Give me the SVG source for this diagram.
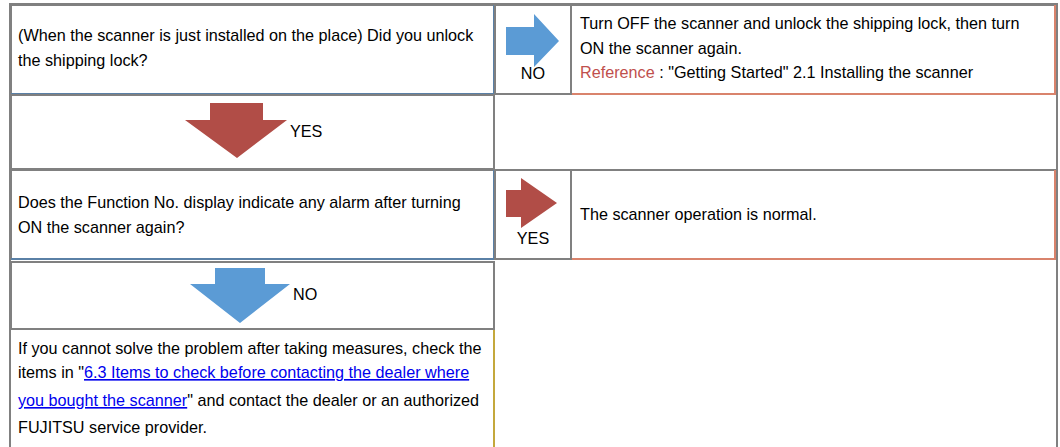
<svg xmlns="http://www.w3.org/2000/svg" width="1060" height="447" viewBox="0 0 1060 447">
<style>
text{font-family:"Liberation Sans",Arial,sans-serif;font-size:16.2px;fill:#000}
.g{fill:#fff;stroke:#808080;stroke-width:2}
.gl{stroke:#808080;stroke-width:2;fill:none}
.bl{stroke:#5a80a6;stroke-width:2;fill:none}
.sa{stroke:#d9836c;stroke-width:2;fill:none}
.go{stroke:#c4a83c;stroke-width:2;fill:none}
.ref{fill:#c0504d}
.lnk{fill:#0000ee;text-decoration:underline}
.ab{fill:#5b9bd5}
.ar{fill:#b14d47}
.c{text-anchor:middle}
</style>
<rect x="0" y="0" width="1060" height="447" fill="#fff"/>
<g id="table">
<path class="gl" d="M10 460V4H1057V460"/>
</g>
<g id="q1">
<rect class="g" x="11" y="5" width="483" height="89"/>
<path class="bl" d="M494 5V94H11"/>
<text x="18" y="41">(When the scanner is just installed on the place) Did you unlock</text>
<text x="18" y="66">the shipping lock?</text>
</g>
<g id="no1-cell">
<rect class="g" x="495" y="5" width="76" height="89"/>
<text class="c" x="533" y="79">NO</text>
</g>
<g id="action1">
<rect class="g" x="571" y="5" width="484" height="89"/>
<path class="sa" d="M1055 5V94H572"/>
<text x="580" y="29">Turn OFF the scanner and unlock the shipping lock, then turn</text>
<text x="580" y="54">ON the scanner again.</text>
<text x="580" y="78"><tspan class="ref">Reference</tspan> : "Getting Started" 2.1 Installing the scanner</text>
</g>
<g id="yes1-cell">
<rect class="g" x="11" y="95" width="483" height="74"/>
<text x="290" y="137">YES</text>
</g>
<g id="q2">
<rect class="g" x="11" y="170" width="483" height="89"/>
<path class="bl" d="M494 170V259H11"/>
<text x="18" y="208">Does the Function No. display indicate any alarm after turning</text>
<text x="18" y="233">ON the scanner again?</text>
</g>
<g id="yes2-cell">
<rect class="g" x="495" y="170" width="76" height="89"/>
<text class="c" x="533" y="244">YES</text>
</g>
<g id="normal">
<rect class="g" x="571" y="170" width="484" height="89"/>
<path class="sa" d="M1055 170V259H572"/>
<text x="580" y="220">The scanner operation is normal.</text>
</g>
<g id="no2-cell">
<rect class="g" x="11" y="262" width="483" height="67"/>
<text x="293" y="300">NO</text>
</g>
<g id="contact">
<path class="go" d="M494 330V460"/>
<text x="18" y="354">If you cannot solve the problem after taking measures, check the</text>
<text x="18" y="378">items in "<tspan class="lnk">6.3 Items to check before contacting the dealer where </tspan></text>
<text x="18" y="406"><tspan class="lnk">you bought the scanner</tspan>" and contact the dealer or an authorized</text>
<text x="18" y="433">FUJITSU service provider.</text>
</g>
<g id="connectors">
<polygon class="ab" points="506,27 534,27 534,14 559,41 534,67 534,55 506,55"/>
<polygon class="ar" points="210,103 263,103 263,120 287,120 237,158 185,120 210,120"/>
<polygon class="ar" points="506,190 521,190 521,178 557,203 521,228 521,217 506,217"/>
<polygon class="ab" points="215,268 265,268 265,284 290,284 240,323 190,284 215,284"/>
</g>
</svg>
